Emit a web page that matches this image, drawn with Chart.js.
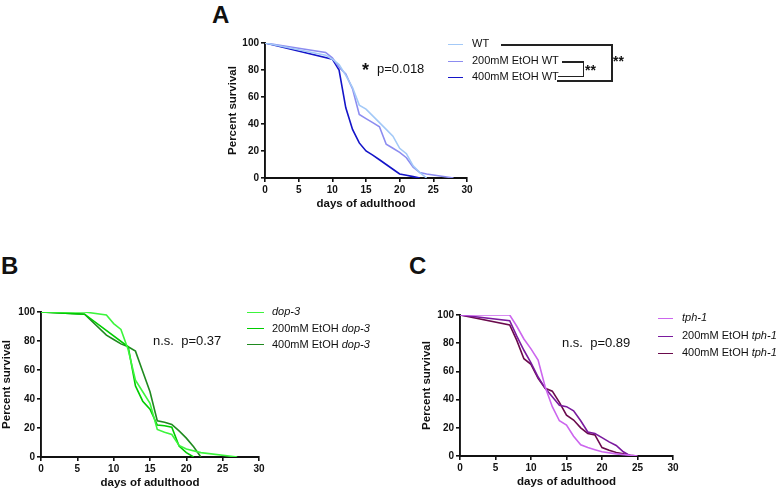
<!DOCTYPE html>
<html>
<head>
<meta charset="utf-8">
<script src="https://cdn.jsdelivr.net/npm/chart.js@4.4.1/dist/chart.umd.min.js"></script>
<style>
  body { margin: 0; background: #fff; font-family: "Liberation Sans", Arial, sans-serif; }
  #fig { position: relative; width: 781px; height: 493px; overflow: hidden; background: #fff; }
  canvas { position: absolute; }
  .t { position: absolute; white-space: nowrap; color: #111; line-height: 1; }
  .letter { font-weight: bold; font-size: 24px; }
  .leg { font-size: 11px; }
  .sw { position: absolute; height: 0; border-top: 1.5px solid; }
  .ln { position: absolute; background: #222; }
</style>
</head>
<body>
<div id="fig">
  <canvas id="chartA" width="285" height="183" style="left:200px;top:28px"></canvas>
  <canvas id="chartB" width="277" height="193" style="left:0px;top:297px"></canvas>
  <canvas id="chartC" width="276" height="189" style="left:415px;top:300px"></canvas>

  <div class="t letter" style="left:212px;top:3px">A</div>
  <div class="t letter" style="left:1px;top:254px">B</div>
  <div class="t letter" style="left:409px;top:254px">C</div>

  <!-- panel A texts -->
  <div class="t" style="left:362px;top:61px;font-size:18px;font-weight:bold">*</div>
  <div class="t" style="left:377px;top:62px;font-size:13px">p=0.018</div>
  <div class="sw" style="left:448px;top:44px;width:15px;border-color:#a3c9f7"></div>
  <div class="sw" style="left:448px;top:61px;width:15px;border-color:#8c8cf0"></div>
  <div class="sw" style="left:448px;top:77px;width:15px;border-color:#1414c8"></div>
  <div class="t leg" style="left:472px;top:38px">WT</div>
  <div class="t leg" style="left:472px;top:55px">200mM EtOH WT</div>
  <div class="t leg" style="left:472px;top:71px">400mM EtOH WT</div>
  <!-- significance brackets -->
  <div class="ln" style="left:501px;top:44px;width:112px;height:1.5px"></div>
  <div class="ln" style="left:611px;top:44px;width:1.5px;height:37px"></div>
  <div class="ln" style="left:557px;top:80px;width:56px;height:1.5px"></div>
  <div class="ln" style="left:562px;top:61px;width:22px;height:1.5px"></div>
  <div class="ln" style="left:582.5px;top:61px;width:1.5px;height:15.5px"></div>
  <div class="ln" style="left:558px;top:75.5px;width:26px;height:1.5px"></div>
  <div class="t" style="left:585px;top:63px;font-size:14px;font-weight:bold">**</div>
  <div class="t" style="left:613px;top:54px;font-size:14px;font-weight:bold">**</div>

  <!-- panel B texts -->
  <div class="t" style="left:153px;top:334px;font-size:13px">n.s.&nbsp;&nbsp;p=0.37</div>
  <div class="sw" style="left:247px;top:312px;width:17px;border-color:#3cf53c"></div>
  <div class="sw" style="left:247px;top:328px;width:17px;border-color:#00cc00"></div>
  <div class="sw" style="left:247px;top:344px;width:17px;border-color:#1f8a1f"></div>
  <div class="t leg" style="left:272px;top:306px"><i>dop-3</i></div>
  <div class="t leg" style="left:272px;top:323px">200mM EtOH <i>dop-3</i></div>
  <div class="t leg" style="left:272px;top:339px">400mM EtOH <i>dop-3</i></div>

  <!-- panel C texts -->
  <div class="t" style="left:562px;top:336px;font-size:13px">n.s.&nbsp;&nbsp;p=0.89</div>
  <div class="sw" style="left:658px;top:318px;width:15px;border-color:#cc66ee"></div>
  <div class="sw" style="left:658px;top:336px;width:15px;border-color:#7a1a9e"></div>
  <div class="sw" style="left:658px;top:353px;width:15px;border-color:#6a0a4c"></div>
  <div class="t leg" style="left:682px;top:312px"><i>tph-1</i></div>
  <div class="t leg" style="left:682px;top:330px">200mM EtOH <i>tph-1</i></div>
  <div class="t leg" style="left:682px;top:347px">400mM EtOH <i>tph-1</i></div>
</div>

<script>
// Panel A - WT
const daysA_wt = [0, 9, 10, 11, 12, 13, 14, 15, 16, 17, 18, 19, 20, 21, 22, 23, 24];
const survA_wt = [100, 91, 88, 84, 76, 67, 54, 51, 46, 41, 36, 31, 22, 18, 9, 4, 0];
const daysA_200 = [0, 9, 10, 11, 12, 13, 14, 15, 16, 17, 18, 19, 20, 21, 22, 23, 24, 26, 28];
const survA_200 = [100, 93, 89, 82, 77, 66, 47, 44, 41, 38, 25, 22, 19, 15, 8, 4, 3, 1.5, 0];
const daysA_400 = [0, 10, 11, 12, 13, 14, 15, 16, 17, 18, 19, 20, 21, 22, 23];
const survA_400 = [100, 88, 80, 52, 36, 26, 20, 17, 13.5, 10, 6.5, 3, 2, 1, 0];

// Panel B - dop-3
const daysB_ctl = [0, 6, 9, 10, 11, 12, 13, 14, 15, 16, 17, 18, 19, 20, 22, 27];
const survB_ctl = [100, 100, 98, 92, 88, 74, 53, 45, 37, 19, 17, 15.5, 8, 5.5, 3, 0];
const daysB_200 = [0, 6, 12, 13, 14, 15, 16, 17, 18, 19, 20, 21];
const survB_200 = [100, 98.5, 76, 49, 38.5, 33, 22, 21.5, 20.5, 7.5, 3, 0];
const daysB_400 = [0, 6, 9, 10, 11, 12, 13, 14, 15, 16, 17, 18, 19, 20, 21, 22];
const survB_400 = [100, 98.5, 84, 81, 78, 76, 73, 59, 45, 25, 24, 22.5, 18, 13, 7, 0];

// Panel C - tph-1
const daysC_ctl = [0, 7, 8, 9, 10, 11, 12, 13, 14, 15, 16, 17, 18, 19, 20, 22, 25];
const survC_ctl = [100, 100, 92, 83, 76, 68, 49, 35, 25, 22, 14, 8, 6, 4.5, 3, 1.5, 0];
const daysC_200 = [0, 7, 8, 9, 10, 11, 12, 13, 14, 15, 16, 17, 18, 19, 20, 21, 22, 23, 24];
const survC_200 = [100, 96, 85, 75, 66, 56, 48, 42, 36, 35, 32, 25, 17, 16, 13, 10, 7.5, 3, 0];
const daysC_400 = [0, 7, 8, 9, 10, 11, 12, 13, 14, 15, 16, 17, 18, 19, 20, 21, 22, 23, 24, 25];
const survC_400 = [100, 93, 82, 69, 65, 55, 48, 46, 38, 29, 25.5, 20, 16, 15, 6, 4, 2.5, 1.5, 0.5, 0];

const xTicks = [0, 5, 10, 15, 20, 25, 30];
const yTicks = [0, 20, 40, 60, 80, 100];

const FONT = '"Liberation Sans", Arial, sans-serif';

function pts(days, surv) {
    return days.map((d, i) => ({ x: d, y: surv[i] }));
}

function line(label, days, surv, color) {
    return {
        label: label,
        data: pts(days, surv),
        borderColor: color,
        borderWidth: 1.6,
        pointRadius: 0,
        tension: 0,
        fill: false
    };
}

function makeChart(id, datasets, padLeft, yWidth) {
    const ctx = document.getElementById(id).getContext('2d');
    return new Chart(ctx, {
        type: 'line',
        data: { datasets: datasets },
        options: {
            responsive: false,
            animation: false,
            devicePixelRatio: 1,
            layout: { padding: { left: padLeft, top: 15, right: 18, bottom: 0 } },
            plugins: { legend: { display: false }, tooltip: { enabled: false } },
            scales: {
                x: {
                    type: 'linear',
                    min: 0,
                    max: 30,
                    afterBuildTicks: function(scale) {
                        scale.ticks = xTicks.map(v => ({ value: v }));
                    },
                    afterFit: function(scale) { scale.height = 33; },
                    grid: { drawOnChartArea: false, drawTicks: true, tickLength: 4, color: '#111', lineWidth: 1.6 },
                    border: { display: true, color: '#111', width: 1.9 },
                    ticks: { color: '#111', padding: 2, maxRotation: 0, autoSkip: false,
                             font: { family: FONT, size: 10, weight: 'bold' } },
                    title: { display: true, text: 'days of adulthood', color: '#111', padding: 0,
                             font: { family: FONT, size: 11.5, weight: 'bold' } }
                },
                y: {
                    min: 0,
                    max: 100,
                    afterBuildTicks: function(scale) {
                        scale.ticks = yTicks.map(v => ({ value: v }));
                    },
                    afterFit: function(scale) { scale.width = yWidth; },
                    grid: { drawOnChartArea: false, drawTicks: true, tickLength: 4, color: '#111', lineWidth: 1.6 },
                    border: { display: true, color: '#111', width: 1.9 },
                    ticks: { color: '#111', padding: 2,
                             font: { family: FONT, size: 10, weight: 'bold' } },
                    title: { display: true, text: 'Percent survival', color: '#111', padding: 0,
                             font: { family: FONT, size: 11.5, weight: 'bold' } }
                }
            }
        }
    });
}

makeChart('chartA', [
    line('WT', daysA_wt, survA_wt, '#a3c9f7'),
    line('200mM EtOH WT', daysA_200, survA_200, '#8c8cf0'),
    line('400mM EtOH WT', daysA_400, survA_400, '#1414c8')
], 26, 39);

makeChart('chartB', [
    line('dop-3', daysB_ctl, survB_ctl, '#3cf53c'),
    line('200mM EtOH dop-3', daysB_200, survB_200, '#00cc00'),
    line('400mM EtOH dop-3', daysB_400, survB_400, '#1f8a1f')
], 0, 41);

makeChart('chartC', [
    line('tph-1', daysC_ctl, survC_ctl, '#cc66ee'),
    line('200mM EtOH tph-1', daysC_200, survC_200, '#7a1a9e'),
    line('400mM EtOH tph-1', daysC_400, survC_400, '#6a0a4c')
], 5, 40);
</script>
</body>
</html>
